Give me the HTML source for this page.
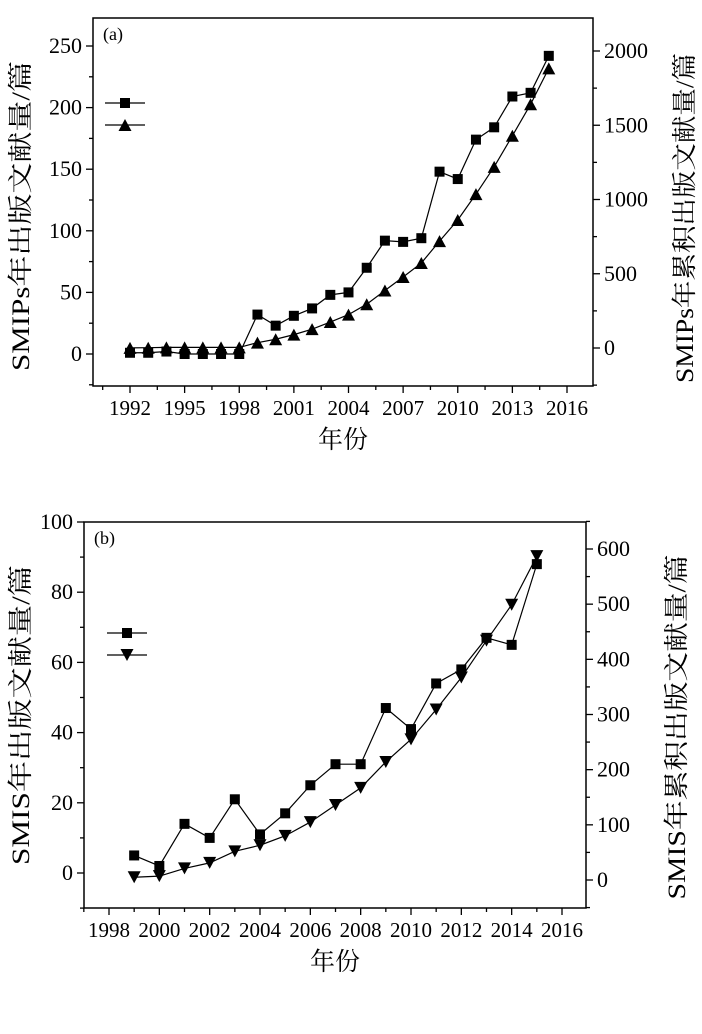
<!DOCTYPE html>
<html><head><meta charset="utf-8"><style>
body{margin:0;background:#fff}
svg{display:block}
text{font-family:"Liberation Serif","Noto Serif CJK SC",serif;fill:#000}
</style></head><body>
<svg id="s" width="702" height="1034"></svg>
<script>
// chart (a)
const yearsA=[1992,1993,1994,1995,1996,1997,1998,1999,2000,2001,2002,2003,2004,2005,2006,2007,2008,2009,2010,2011,2012,2013,2014,2015];
const annualA=[1,1,2,0,0,0,0,32,23,31,37,48,50,70,92,91,94,148,142,174,184,209,212,242];
const cumA=[1,2,4,4,4,4,4,36,59,90,127,175,225,295,387,478,572,720,862,1036,1220,1429,1641,1883];
const xTicksA=[1992,1995,1998,2001,2004,2007,2010,2013,2016];
const yTicksA=[0,50,100,150,200,250];
const y2TicksA=[0,500,1000,1500,2000];
// chart (b)
const yearsB=[1999,2000,2001,2002,2003,2004,2005,2006,2007,2008,2009,2010,2011,2012,2013,2014,2015];
const annualB=[5,2,14,10,21,11,17,25,31,31,47,41,54,58,67,65,88];
const cumB=[5,7,21,31,52,63,80,105,136,167,214,255,309,367,434,499,587];
const xTicksB=[1998,2000,2002,2004,2006,2008,2010,2012,2014,2016];
const yTicksB=[0,20,40,60,80,100];
const y2TicksB=[0,100,200,300,400,500,600];

const NS="http://www.w3.org/2000/svg";
const svg=document.getElementById('s');
function mk(tag,at,parent,txt){const e=document.createElementNS(NS,tag);for(const k in at)e.setAttribute(k,at[k]);if(txt!==undefined)e.textContent=txt;(parent||svg).appendChild(e);return e;}

function chart(o){
  const g=mk('g',{});
  
  
  const X=v=>o.x0+(v-o.xa)*(o.x1-o.x0)/(o.xb-o.xa);
  const Y=v=>o.y0+v*(o.y1-o.y0)/o.ymax;
  const Y2=v=>o.r0+v*(o.r1-o.r0)/o.rmax;
  const fr=mk('rect',{x:o.L,y:o.T,width:o.R-o.L,height:o.B-o.T,fill:'none',stroke:'#000','stroke-width':1.5},g);
  
  
  const xs=o.xt[1]-o.xt[0];
  for(let v=o.xt[0]-xs/2;v<=o.xt[o.xt.length-1]+0.01;v+=xs/2){
    const px=X(v); if(px<o.L-1||px>o.R+1)continue;
    const major=o.xt.some(t=>Math.abs(t-v)<0.01);
    mk('line',{x1:px,y1:o.B,x2:px,y2:o.B+(major?7:4),stroke:'#000','stroke-width':1.3},g);
  }
  o.xt.forEach(v=>{const t=mk('text',{x:X(v),y:o.B+29,'font-size':21,'text-anchor':'middle'},g,v);
    });
  const ys=o.yt[1]-o.yt[0];
  for(let v=o.yt[0]-ys/2;v<=o.yt[o.yt.length-1]+ys/2+0.01;v+=ys/2){
    const py=Y(v); if(py<o.T-1||py>o.B+1)continue;
    const major=o.yt.some(t=>Math.abs(t-v)<0.01);
    mk('line',{x1:o.L-(major?7:4),y1:py,x2:o.L,y2:py,stroke:'#000','stroke-width':1.3},g);
  }
  o.yt.forEach(v=>{const t=mk('text',{x:o.L-11,y:Y(v)+7,'font-size':22,'text-anchor':'end'},g,v);
    });
  const rs=o.rt[1]-o.rt[0];
  for(let v=o.rt[0]-rs/2;v<=o.rt[o.rt.length-1]+rs/2+0.01;v+=rs/2){
    const py=Y2(v); if(py<o.T-1||py>o.B+1)continue;
    const major=o.rt.some(t=>Math.abs(t-v)<0.01);
    mk('line',{x1:o.R,y1:py,x2:o.R+(major?7:4),y2:py,stroke:'#000','stroke-width':1.3},g);
  }
  o.rt.forEach(v=>{const t=mk('text',{x:o.R+11,y:Y2(v)+7,'font-size':22,'text-anchor':'start'},g,v);
    });
  const p1=o.years.map((yr,i)=>X(yr)+','+Y(o.a[i])).join(' ');
  const l1=mk('polyline',{points:p1,fill:'none',stroke:'#000','stroke-width':1.2},g);
  
  const p2=o.years.map((yr,i)=>X(yr)+','+Y2(o.c[i])).join(' ');
  const l2=mk('polyline',{points:p2,fill:'none',stroke:'#000','stroke-width':1.2},g);
  
  const tri=(cx,cy,down)=>down?`${cx-6.5},${cy-6} ${cx+6.5},${cy-6} ${cx},${cy+6}`:`${cx-6.5},${cy+6} ${cx+6.5},${cy+6} ${cx},${cy-6}`;
  o.years.forEach((yr,i)=>{
    const m=mk('rect',{x:X(yr)-5,y:Y(o.a[i])-5,width:10,height:10,fill:'#000'},g);
    
    const t=mk('polygon',{points:tri(X(yr),Y2(o.c[i]),o.down),fill:'#000'},g);
    
  });
  const lg=mk('g',{},g);
  
  mk('line',{x1:o.lx,y1:o.ly,x2:o.lx+40,y2:o.ly,stroke:'#000','stroke-width':1.2},lg);
  mk('rect',{x:o.lx+15,y:o.ly-5,width:10,height:10,fill:'#000'},lg);
  mk('line',{x1:o.lx,y1:o.ly+22,x2:o.lx+40,y2:o.ly+22,stroke:'#000','stroke-width':1.2},lg);
  mk('polygon',{points:tri(o.lx+20,o.ly+22,o.down),fill:'#000'},lg);
  const pl=mk('text',{x:o.L+10,y:o.T+22,'font-size':18},g,o.panel);
  
  const xt=mk('text',{x:(o.L+o.R)/2,y:o.B+62,'font-size':25,'text-anchor':'middle'},g,'年份');
  
  const yt=mk('text',{x:0,y:0,'font-size':25,'text-anchor':'middle',textLength:o.yl,lengthAdjust:'spacingAndGlyphs',transform:`translate(${o.ylx},${o.ylcy}) rotate(-90)`},g,o.ytitle);
  
  const y2=mk('text',{x:0,y:0,'font-size':25,'text-anchor':'middle',textLength:o.y2l,lengthAdjust:'spacingAndGlyphs',transform:`translate(${o.y2lx},${o.y2cy}) rotate(-90)`},g,o.y2title);
  
}
chart({name:'chart-a',L:93,R:593,T:18,B:386,xa:1992,xb:2016,x0:130,x1:567,xt:xTicksA,
  y0:354,y1:46,ymax:250,yt:yTicksA,r0:348,r1:51,rmax:2000,rt:y2TicksA,
  years:yearsA,a:annualA,c:cumA,down:false,lx:105,ly:103,panel:'(a)',
  ytitle:'SMIPs年出版文献量/篇',y2title:'SMIPs年累积出版文献量/篇',
  ylx:29,ylcy:216,yl:310,y2lx:693,y2cy:218,y2l:330});
chart({name:'chart-b',L:84,R:586,T:522,B:908,xa:1998,xb:2016,x0:109,x1:562,xt:xTicksB,
  y0:873,y1:522,ymax:100,yt:yTicksB,r0:880,r1:549,rmax:600,rt:y2TicksB,
  years:yearsB,a:annualB,c:cumB,down:true,lx:107,ly:633,panel:'(b)',
  ytitle:'SMIS年出版文献量/篇',y2title:'SMIS年累积出版文献量/篇',
  ylx:29,ylcy:715,yl:300,y2lx:685,y2cy:727,y2l:345});
</script>
</body></html>
